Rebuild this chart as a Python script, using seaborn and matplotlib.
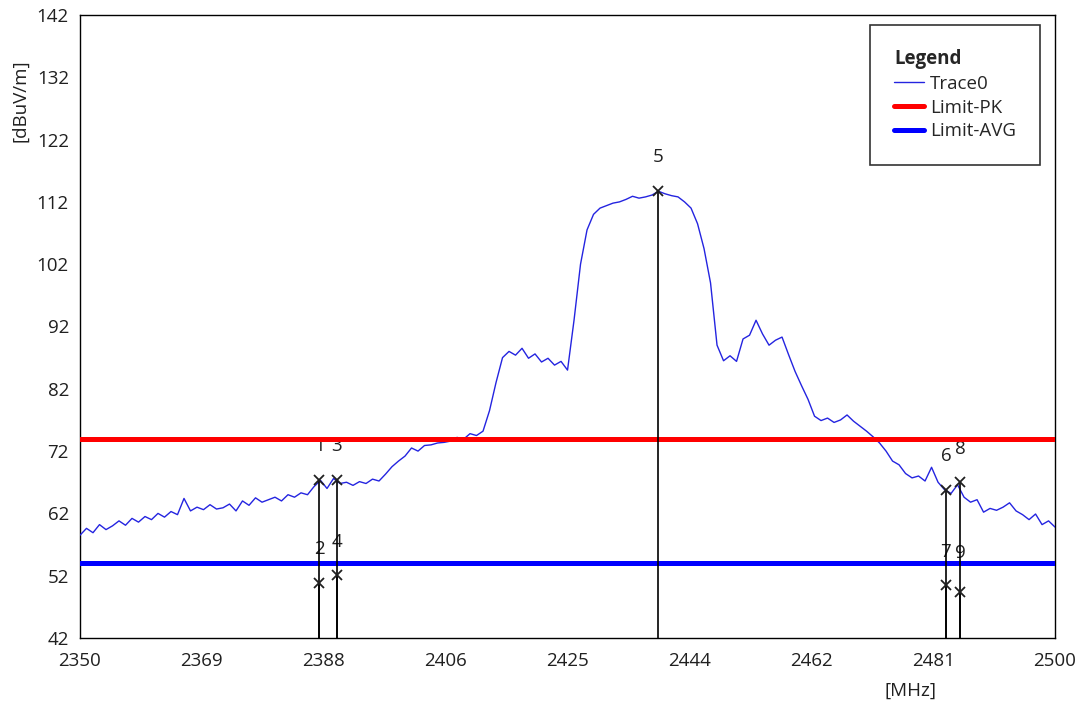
"""
EMC band-edge scan: Trace0 with PK/AVG limit lines and numbered markers.
"""

import matplotlib

matplotlib.use("Agg")
import matplotlib.pyplot as plt
import numpy as np
import pandas as pd
import seaborn as sns
from matplotlib.lines import Line2D

# trace, 1 MHz steps from 2350 to 2500
freq_mhz = list(range(2350, 2501))
trace0 = [
    58.5, 59.6, 58.9, 60.2, 59.4, 60.0, 60.8, 60.1, 61.2, 60.6,
    61.5, 61.0, 62.0, 61.4, 62.3, 61.8, 64.4, 62.4, 63.0, 62.6,
    63.4, 62.7, 62.9, 63.5, 62.4, 64.0, 63.3, 64.5, 63.8, 64.2,
    64.6, 64.0, 65.0, 64.6, 65.3, 65.0, 66.3, 67.3, 66.0, 67.6,
    66.8, 67.0, 66.5, 67.1, 66.8, 67.5, 67.2, 68.3, 69.5, 70.4,
    71.2, 72.5, 72.0, 72.9, 73.0, 73.3, 73.4, 73.6, 74.2, 73.9,
    74.8, 74.5, 75.2, 78.5, 83.0, 87.0, 88.0, 87.4, 88.5, 86.9,
    87.6, 86.3, 86.9, 85.8, 86.4, 85.0, 93.0, 102.0, 107.5, 110.0,
    111.0, 111.4, 111.8, 112.0, 112.4, 112.9, 112.6, 112.8, 113.1, 113.7,
    113.3, 113.0, 112.8, 112.0, 111.0, 108.5, 104.5, 99.0, 89.0, 86.5,
    87.3, 86.4, 90.0, 90.6, 93.0, 90.8, 89.0, 89.8, 90.3, 87.5,
    84.8, 82.5, 80.3, 77.6, 76.9, 77.3, 76.6, 77.0, 77.8, 76.8,
    76.0, 75.2, 74.3, 73.3, 72.0, 70.4, 69.8, 68.4, 67.7, 68.0,
    67.2, 69.4, 67.0, 65.8, 65.2, 66.6, 64.6, 63.8, 64.2, 62.2,
    62.8, 62.5, 63.0, 63.7, 62.4, 61.8, 61.0, 61.9, 60.2, 60.8,
    59.8,
]

limit_pk = 74.0
limit_avg = 54.0

# markers: label, frequency, level, where the number sits
marker_labels = ["1", "2", "3", "4", "5", "6", "7", "8", "9"]
marker_freq = [2386.8, 2386.8, 2389.5, 2389.5, 2438.9, 2483.2, 2483.2, 2485.4, 2485.4]
marker_level = [67.4, 50.8, 67.4, 52.1, 113.7, 65.8, 50.5, 67.0, 49.4]
marker_text_level = [72.8, 56.3, 72.8, 57.4, 119.2, 71.2, 55.8, 72.3, 55.6]

x_ticks = [2350, 2368.75, 2387.5, 2406.25, 2425, 2443.75, 2462.5, 2481.25, 2500]
x_tick_labels = ["2350", "2369", "2388", "2406", "2425", "2444", "2462", "2481", "2500"]
y_ticks = [42, 52, 62, 72, 82, 92, 102, 112, 122, 132, 142]

df = pd.DataFrame({"freq": freq_mhz, "level": trace0})

sns.set_style("white")
plt.rcParams["font.family"] = ["Open Sans", "DejaVu Sans"]
fs = 13.5

fig = plt.figure(figsize=(10.81, 7.06), dpi=100)
ax = fig.add_axes([0.074, 0.0963, 0.902, 0.8825])

sns.lineplot(data=df, x="freq", y="level", ax=ax, color="#2424e0", linewidth=1.0, zorder=3)
ax.axhline(limit_pk, color="#ff0000", linewidth=3.6, zorder=4)
ax.axhline(limit_avg, color="#0000ff", linewidth=3.6, zorder=4)

for lab, f, lvl, tl in zip(marker_labels, marker_freq, marker_level, marker_text_level):
    ax.plot([f, f], [42, lvl], color="black", linewidth=1.2, zorder=5)
    ax.plot(f, lvl, marker="x", color="#202020", markersize=7, mew=1.3, zorder=6)
    ax.text(f, tl, lab, ha="center", va="center", fontsize=fs, color="#202020", zorder=2)

ax.set_xlim(2350, 2500)
ax.set_ylim(42, 142)
ax.set_xticks(x_ticks)
ax.set_xticklabels(x_tick_labels)
ax.set_yticks(y_ticks)
ax.tick_params(axis="both", length=0, labelsize=fs, colors="#202020")
ax.tick_params(axis="x", pad=10)
ax.tick_params(axis="y", pad=8)
ax.set_xlabel("")
ax.set_ylabel("")
for s in ax.spines.values():
    s.set_color("black")
    s.set_linewidth(1.0)

fig.text(0.019, 0.858, "[dBuV/m]", rotation=90, ha="center", va="center",
         fontsize=fs, color="#202020")
fig.text(0.842, 0.022, "[MHz]", ha="center", va="center", fontsize=fs, color="#202020")

handles = [
    Line2D([], [], color="#2424e0", linewidth=1.0, label="Trace0"),
    Line2D([], [], color="#ff0000", linewidth=3.6, label="Limit-PK"),
    Line2D([], [], color="#0000ff", linewidth=3.6, label="Limit-AVG"),
]
leg = ax.legend(handles=handles, title="Legend", loc="upper right",
                bbox_to_anchor=(0.985, 0.984), borderaxespad=0.0,
                fontsize=fs, title_fontsize=fs,
                frameon=True, fancybox=False, handlelength=1.6, handletextpad=0.3,
                borderpad=1.3, labelspacing=0.3, alignment="left")
leg.get_title().set_fontweight("bold")
leg.get_frame().set_edgecolor("black")
leg.get_frame().set_linewidth(1.2)

fig.savefig("out.png", dpi=100)
plt.close(fig)
